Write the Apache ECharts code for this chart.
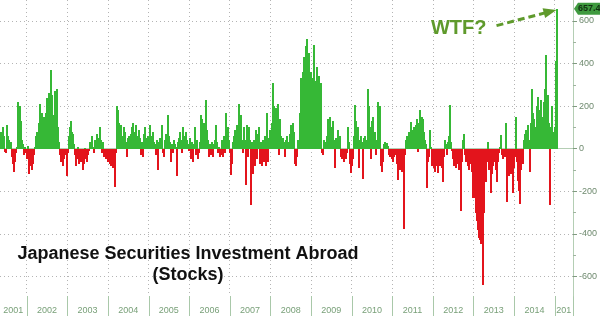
<!DOCTYPE html>
<html><head><meta charset="utf-8">
<script src="https://cdn.jsdelivr.net/npm/echarts@6/dist/echarts.min.js"></script>
<style>html,body{margin:0;padding:0;background:#fff}#c{width:600px;height:316px}</style>
</head><body><div id="c"></div>
<script>
// ---- DATA (one value per bar, billions of yen) ----
const flows = [
 80,50,100,60,-15,-20,110,60,40,20, 30,-40,-70,-110,-60,-20,10,220,150,200,
 130,40,20,-30,10,-20,-50,15,-120,-80, -60,-100,-70,-30,10,60,80,40,120,210,
 160,170,140,150,120,170,240,200,260,180, 370,250,160,140,270,120,280,100,30,-30,
 -60,-40,-80,-50,-20,-30,-130,-20,60,100, 130,80,70,20,-30,-80,-50,10,-70,-40,
 -60,-20,-100,-70,5,-50,-60,-30,-10,30, 20,60,10,-20,40,
 40,70,30,50,100,40,-20,30,-40,-20, -50,-30,-60,-20,-70,-80,-60,-90,-50,-180,
 -20,200,180,120,70,110,40,60,100,80, 30,-40,50,60,40,70,100,120,80,40,
 110,60,20,90,50,-30,30,-40,70,100, 50,30,60,20,110,60,40,80,30,20,
 -30,40,-100,30,50,20,110,-20,-40,40, 70,30,160,60,30,-60,20,-20,40,20,
 10,-130,30,50,80,40,-20,100,60,30, 80,40,20,-10,50,
 -50,30,-60,20,100,-30,40,-50,-20,30, 160,140,80,120,60,230,90,40,-40,20,
 -30,30,-40,20,40,110,30,-20,10,-40, -30,40,-40,60,-20,170,60,100,40,-20,
 -125,-70,30,60,90,40,110,70,210,60, 160,40,-20,100,40,-170,110,-40,100,40,
 -265,30,-120,40,-80,90,-50,70,100,-70, 30,-80,40,-60,60,-80,170,-60,50,90,
 30,120,310,200,150,190,60,210,-30,140, 60,40,20,50,30,
 -40,40,60,30,20,70,110,60,120,80, -70,-80,-40,40,30,170,330,300,360,430,
 290,480,517,420,450,300,360,260,330,485, 300,320,385,260,340,250,310,-20,-30,40,
 30,20,60,140,130,150,100,70,130,40, -90,50,20,90,40,60,-40,-50,-45,-60,
 -40,-50,-20,100,30,-70,-115,-80,-50,60, 205,130,70,100,-90,40,60,30,-140,50,
 60,20,40,280,200,100,-50,130,150,60, 80,-30,40,220,100,
 200,-80,-110,-60,20,30,10,25,15,-30, -40,-20,-50,-60,-40,-20,-30,-70,-145,-40,
 -100,-60,-110,-80,-375,-30,40,60,20,80, 60,125,90,70,100,60,110,140,-15,120,
 180,90,150,140,80,40,20,-185,-60,-40, 90,10,-80,-50,-90,-110,-70,-80,-115,-60,
 -80,-50,-90,-155,-40,40,20,-30,30,60, 205,30,-10,-50,-80,-60,-90,-40,-70,-100,
 -50,-290,-60,40,70,-30,-60,-40,-80,-100, -50,-70,-110,-230,-60,
 -230,-300,-340,-380,-420,-430,-445,-380,-640,-300, -150,-155,-60,30,-100,-60,-210,-120,-80,-60,
 -60,-100,-155,-60,-20,10,65,-30,-50,-40, -40,120,-250,-100,-130,-80,-120,-60,-210,-90,
 -40,150,-60,-150,-200,-260,-100,-30,-70,40, 70,90,60,110,40,-110,120,280,170,140,
 100,60,200,245,120,180,230,150,90,220, 280,440,150,250,120,-265,100,200,80,70,
 100,410,657.4
];
const yearTicks = [2002,2003,2004,2005,2006,2007,2008,2009,2010,2011,2012,2013,2014,2015];
const yearLabels = ['2001','2002','2003','2004','2005','2006','2007','2008','2009','2010','2011','2012','2013','2014','201'];
const yMajorTicks = [-600,-400,-200,0,200,400,600];
const yMinorTicks = [-500,-300,-100,100,300,500];
const titleLines = ['Japanese Securities Investment Abroad', '(Stocks)'];
const calloutText = 'WTF?';
const latestText = '657.4';

// ---- LAYOUT / STYLE ----
const GREEN = '#36b836', RED = '#e3141c', NOTE = '#5f9a2c';
const FONT = '"Liberation Sans", Arial, sans-serif';
const SEP = '#a9c8a9';
const BAR_PX = 2;                  // drawn bar width (bars overlap slightly, like the source)
const padSlots = 16;               // empty space right of last bar
const yearMin = 2001.344, yearMax = 2015.45;
const yMin = -691, yMax = 698;
const slots = flows.map((_, i) => i);
for (let k = 0; k < padSlots; k++) slots.push(flows.length + k);
const labelPos = [ (yearMin + yearTicks[0]) / 2 ];
for (let k = 0; k < yearTicks.length - 1; k++) labelPos.push(yearTicks[k] + 0.5);
labelPos.push((yearTicks[yearTicks.length - 1] + yearMax) / 2);

const chart = echarts.init(document.getElementById('c'), null, {renderer: 'canvas'});
chart.setOption({
  animation: false,
  backgroundColor: '#fff',
  grid: {left: 0, right: 26, top: 0, bottom: 20},
  xAxis: [
    {type: 'category', data: slots, show: false, boundaryGap: true},
    {type: 'value', min: yearMin, max: yearMax, position: 'bottom',
     axisLine: {show: true, lineStyle: {color: '#b4ceb4', width: 1}},
     axisTick: {show: false, customValues: yearTicks},
     axisLabel: {show: true, customValues: labelPos, margin: 10, fontSize: 9, color: '#79a079',
                 fontFamily: FONT,
                 formatter: v => {
                   let idx = labelPos.findIndex(p => Math.abs(p - v) < 1e-6);
                   return idx >= 0 ? yearLabels[idx] : '';
                 }},
     splitLine: {show: true, lineStyle: {color: '#b4b4b4', type: [1, 3], width: 1}}}
  ],
  yAxis: [
    {type: 'value', position: 'right', min: yMin, max: yMax,
     axisLine: {show: true, lineStyle: {color: '#b4ceb4'}},
     axisTick: {show: true, customValues: yMajorTicks, length: 4, lineStyle: {color: '#7f9a7f'}},
     axisLabel: {show: true, customValues: yMajorTicks, margin: 6, fontSize: 9, color: '#6f8a6f',
                 fontFamily: FONT},
     splitLine: {show: true, lineStyle: {color: '#b4b4b4', type: [1, 3], width: 1}}},
    {type: 'value', position: 'right', min: yMin, max: yMax,
     axisLine: {show: false},
     axisTick: {show: true, customValues: yMinorTicks, length: 3, lineStyle: {color: '#9fb49f'}},
     axisLabel: {show: false}, splitLine: {show: false}}
  ],
  series: [{
    type: 'custom', xAxisIndex: 0, yAxisIndex: 0,
    data: flows.map((v, i) => [i, v]),
    encode: {x: 0, y: 1},
    renderItem: (params, api) => {
      const idx = api.value(0), v = api.value(1);
      const base = api.coord([idx, 0]);
      const top = api.coord([idx, v]);
      const x = Math.floor(base[0]);
      const y0 = Math.round(base[1]);
      const y1 = Math.round(top[1]);
      return {type: 'rect',
        shape: {x: x, y: Math.min(y0, y1), width: BAR_PX, height: Math.max(1, Math.abs(y1 - y0))},
        style: {fill: v >= 0 ? GREEN : RED}};
    },
    emphasis: {disabled: true}
  }]
});

// annotations anchored on the last bar / axes
const lastIdx = flows.length - 1;
const tip = chart.convertToPixel({xAxisIndex: 0, yAxisIndex: 0}, [lastIdx, flows[lastIdx]]);
const axisX = chart.convertToPixel({xAxisIndex: 1}, yearMax);
const axisY = chart.convertToPixel({yAxisIndex: 0}, yMin);
const sx = tip[0] - 60, sy = tip[1] + 17, ex = tip[0] - 3, ey = tip[1] + 2;
const ang = Math.atan2(ey - sy, ex - sx);
const ah = 10, aw = 5;
const head = [
  [ex + 3 * Math.cos(ang), ey + 3 * Math.sin(ang)],
  [ex - ah * Math.cos(ang) + aw * Math.sin(ang), ey - ah * Math.sin(ang) - aw * Math.cos(ang)],
  [ex - ah * Math.cos(ang) - aw * Math.sin(ang), ey - ah * Math.sin(ang) + aw * Math.cos(ang)]
];
const seps = yearTicks.map(yr => {
  const px = Math.round(chart.convertToPixel({xAxisIndex: 1}, yr)) + 0.5;
  return {type: 'line', silent: true, shape: {x1: px, y1: axisY, x2: px, y2: 316},
          style: {stroke: SEP, lineWidth: 1}};
});
seps.push({type: 'line', silent: true, shape: {x1: Math.round(axisX) + 0.5, y1: axisY, x2: Math.round(axisX) + 0.5, y2: 316},
           style: {stroke: SEP, lineWidth: 1}});
chart.setOption({graphic: seps.concat([
  {type: 'text', x: 188, y: 254,
   style: {text: titleLines[0], font: 'bold 18px ' + FONT, fill: '#111', align: 'center', verticalAlign: 'middle'}},
  {type: 'text', x: 188, y: 275,
   style: {text: titleLines[1], font: 'bold 18px ' + FONT, fill: '#111', align: 'center', verticalAlign: 'middle'}},
  {type: 'text', x: sx - 10, y: sy + 3,
   style: {text: calloutText, font: 'bold 20px ' + FONT, fill: NOTE, align: 'right', verticalAlign: 'middle'}},
  {type: 'line', shape: {x1: sx, y1: sy, x2: ex - 6 * Math.cos(ang), y2: ey - 6 * Math.sin(ang)},
   style: {stroke: NOTE, lineWidth: 3, lineDash: [7, 4]}},
  {type: 'polygon', shape: {points: head}, style: {fill: NOTE}},
  {type: 'polygon', shape: {points: [[axisX + 1, tip[1]], [axisX + 5, tip[1] - 6], [600, tip[1] - 6], [600, tip[1] + 6], [axisX + 5, tip[1] + 6]]},
   style: {fill: '#3f9a3f'}},
  {type: 'text', x: axisX + 5, y: tip[1],
   style: {text: latestText, font: 'bold 9px ' + FONT, fill: '#123012', align: 'left', verticalAlign: 'middle'}}
])});
</script></body></html>
